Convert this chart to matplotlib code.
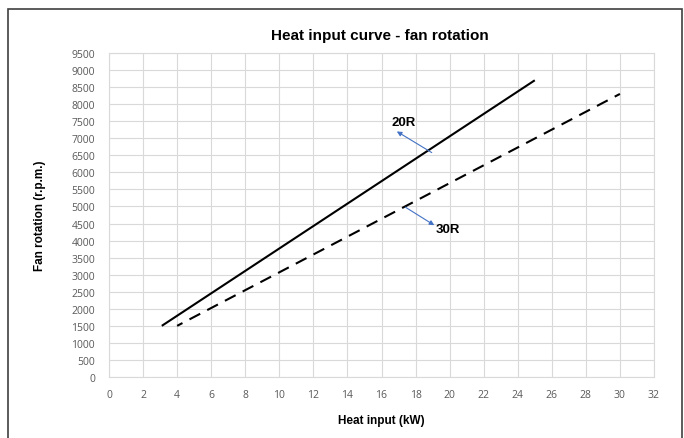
import matplotlib
matplotlib.use('Agg')
import matplotlib.pyplot as plt
from matplotlib.patches import Rectangle

# Data
heat_20r = [3.1, 25]
rpm_20r = [1500, 8700]
heat_30r = [4, 30]
rpm_30r = [1500, 8300]
x_ticks = list(range(0, 33, 2))
y_ticks = list(range(0, 9501, 500))

W, H = 684, 439
fig = plt.figure(figsize=(W / 100, H / 100), dpi=100)
ax = fig.add_axes([109 / W, 1 - 378 / H, (654 - 109) / W, (378 - 54) / H])

tick_font = ['Open Sans', 'DejaVu Sans']
bold_font = ['Liberation Sans Narrow', 'Liberation Sans', 'DejaVu Sans']

ax.plot(heat_20r, rpm_20r, color='black', lw=1.5, solid_capstyle='butt')
ax.plot(heat_30r, rpm_30r, color='black', lw=1.5, ls=(2.9, (5.8, 3.8)),
        dash_capstyle='butt')

ax.set_xlim(0, 32)
ax.set_ylim(0, 9500)
ax.set_xticks(x_ticks)
ax.set_yticks(y_ticks)
ax.grid(True, color='#d9d9d9', lw=0.8)
ax.set_axisbelow(True)
for s in ax.spines.values():
    s.set_color('#d9d9d9')
    s.set_linewidth(0.8)
ax.tick_params(length=0, colors='#595959', labelsize=7.5)
ax.tick_params(axis='y', pad=10)
ax.tick_params(axis='x', pad=9)
for lab in ax.get_xticklabels() + ax.get_yticklabels():
    lab.set_family(tick_font)

# Annotations
ax.annotate('', xy=(16.9, 7200), xytext=(18.95, 6580),
            arrowprops=dict(arrowstyle='-|>', color='#4472C4', lw=0.8,
                            mutation_scale=7, shrinkA=0, shrinkB=0))
ax.text(17.3, 7475, '20R', fontsize=9.5, fontweight='bold', ha='center', va='center',
        family=bold_font)
ax.annotate('', xy=(19.1, 4450), xytext=(17.4, 4980),
            arrowprops=dict(arrowstyle='-|>', color='#4472C4', lw=0.8,
                            mutation_scale=7, shrinkA=0, shrinkB=0))
ax.text(19.9, 4330, '30R', fontsize=9.5, fontweight='bold', ha='center', va='center',
        family=bold_font)

fig.text(380 / W, 1 - 36 / H, 'Heat input curve - fan rotation', fontsize=11,
         fontweight='bold', ha='center', va='center', family=bold_font)
fig.text(381 / W, 1 - 421 / H, 'Heat input (kW)', fontsize=8.5,
         fontweight='bold', ha='center', va='center', family=bold_font)
fig.text(40 / W, 1 - 216 / H, 'Fan rotation (r.p.m.)', fontsize=8.5, rotation=90,
         fontweight='bold', ha='center', va='center', family=bold_font)

# Outer chart frame
fig.patches.append(Rectangle((8 / W, -0.05), (682 - 8) / W, 1.05 - 10 / H,
                             transform=fig.transFigure, fill=False,
                             edgecolor='#404040', lw=1.2))

fig.savefig('out.png', dpi=100)
